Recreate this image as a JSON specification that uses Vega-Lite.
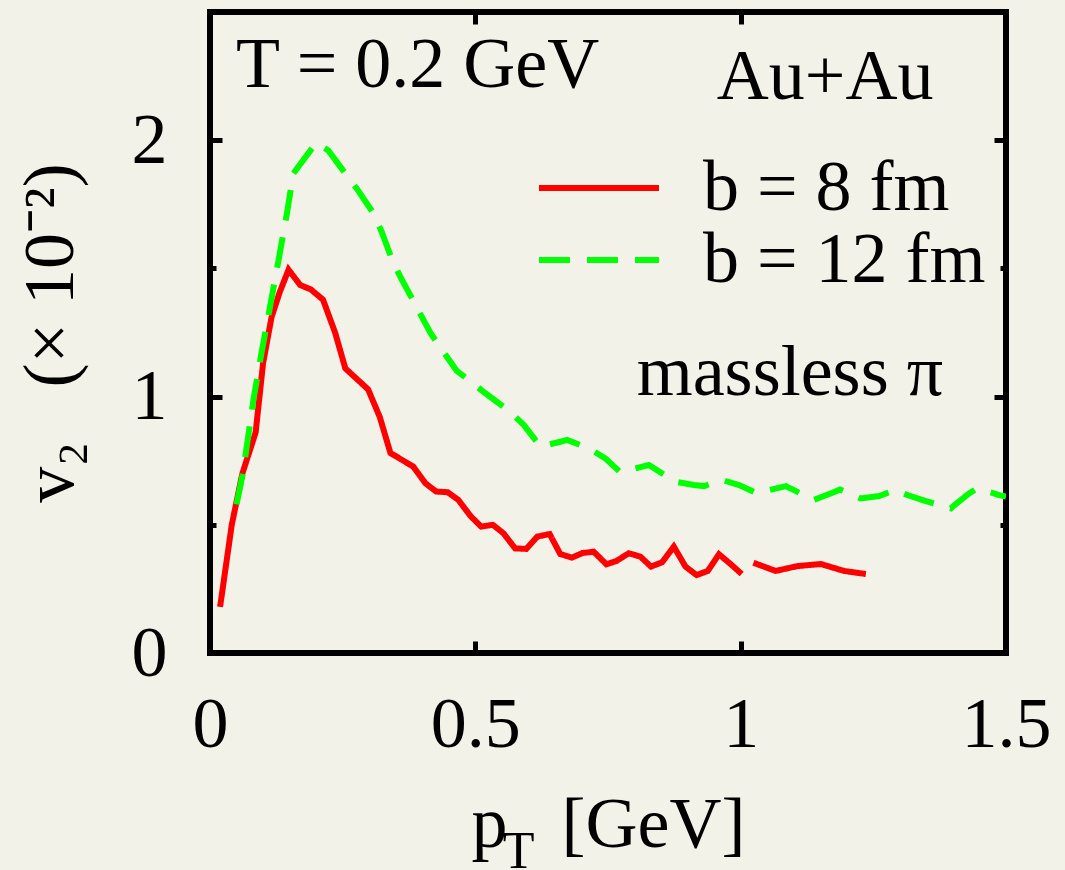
{
  "$schema": "https://vega.github.io/schema/vega-lite/v6.json",
  "width": 796,
  "height": 641,
  "autosize": "none",
  "padding": {"left": 210, "top": 12, "right": 59, "bottom": 217},
  "background": "#f2f2e8",
  "config": {
    "view": {"stroke": "#000000", "strokeWidth": 6, "fill": "#f2f2e8"},
    "font": "Liberation Serif",
    "axis": {
      "domain": false,
      "grid": false,
      "tickColor": "#000000",
      "tickWidth": 5,
      "labelFont": "Liberation Serif",
      "labelFontSize": 72,
      "labelColor": "#000000",
      "titleFont": "Liberation Serif",
      "titleFontSize": 72,
      "titleFontWeight": "normal",
      "titleColor": "#000000"
    }
  },
  "datasets": {
    "curves": [
      {"series": "b = 8 fm", "seg": 1, "pt": 0.019, "v2": 0.18},
      {"series": "b = 8 fm", "seg": 1, "pt": 0.041, "v2": 0.50},
      {"series": "b = 8 fm", "seg": 1, "pt": 0.061, "v2": 0.70},
      {"series": "b = 8 fm", "seg": 1, "pt": 0.086, "v2": 0.86},
      {"series": "b = 8 fm", "seg": 1, "pt": 0.100, "v2": 1.13},
      {"series": "b = 8 fm", "seg": 1, "pt": 0.116, "v2": 1.31},
      {"series": "b = 8 fm", "seg": 1, "pt": 0.131, "v2": 1.405},
      {"series": "b = 8 fm", "seg": 1, "pt": 0.148, "v2": 1.495},
      {"series": "b = 8 fm", "seg": 1, "pt": 0.170, "v2": 1.435},
      {"series": "b = 8 fm", "seg": 1, "pt": 0.190, "v2": 1.418},
      {"series": "b = 8 fm", "seg": 1, "pt": 0.213, "v2": 1.378},
      {"series": "b = 8 fm", "seg": 1, "pt": 0.236, "v2": 1.248},
      {"series": "b = 8 fm", "seg": 1, "pt": 0.255, "v2": 1.11},
      {"series": "b = 8 fm", "seg": 1, "pt": 0.276, "v2": 1.07},
      {"series": "b = 8 fm", "seg": 1, "pt": 0.298, "v2": 1.028},
      {"series": "b = 8 fm", "seg": 1, "pt": 0.320, "v2": 0.92},
      {"series": "b = 8 fm", "seg": 1, "pt": 0.340, "v2": 0.78},
      {"series": "b = 8 fm", "seg": 1, "pt": 0.383, "v2": 0.727},
      {"series": "b = 8 fm", "seg": 1, "pt": 0.406, "v2": 0.662},
      {"series": "b = 8 fm", "seg": 1, "pt": 0.426, "v2": 0.630},
      {"series": "b = 8 fm", "seg": 1, "pt": 0.448, "v2": 0.627},
      {"series": "b = 8 fm", "seg": 1, "pt": 0.468, "v2": 0.597},
      {"series": "b = 8 fm", "seg": 1, "pt": 0.491, "v2": 0.534},
      {"series": "b = 8 fm", "seg": 1, "pt": 0.511, "v2": 0.493},
      {"series": "b = 8 fm", "seg": 1, "pt": 0.533, "v2": 0.500},
      {"series": "b = 8 fm", "seg": 1, "pt": 0.553, "v2": 0.467},
      {"series": "b = 8 fm", "seg": 1, "pt": 0.575, "v2": 0.408},
      {"series": "b = 8 fm", "seg": 1, "pt": 0.596, "v2": 0.406},
      {"series": "b = 8 fm", "seg": 1, "pt": 0.617, "v2": 0.454},
      {"series": "b = 8 fm", "seg": 1, "pt": 0.640, "v2": 0.464},
      {"series": "b = 8 fm", "seg": 1, "pt": 0.660, "v2": 0.386},
      {"series": "b = 8 fm", "seg": 1, "pt": 0.682, "v2": 0.372},
      {"series": "b = 8 fm", "seg": 1, "pt": 0.702, "v2": 0.390},
      {"series": "b = 8 fm", "seg": 1, "pt": 0.723, "v2": 0.395},
      {"series": "b = 8 fm", "seg": 1, "pt": 0.747, "v2": 0.346},
      {"series": "b = 8 fm", "seg": 1, "pt": 0.766, "v2": 0.359},
      {"series": "b = 8 fm", "seg": 1, "pt": 0.789, "v2": 0.389},
      {"series": "b = 8 fm", "seg": 1, "pt": 0.811, "v2": 0.376},
      {"series": "b = 8 fm", "seg": 1, "pt": 0.831, "v2": 0.337},
      {"series": "b = 8 fm", "seg": 1, "pt": 0.852, "v2": 0.354},
      {"series": "b = 8 fm", "seg": 1, "pt": 0.874, "v2": 0.415},
      {"series": "b = 8 fm", "seg": 1, "pt": 0.896, "v2": 0.337},
      {"series": "b = 8 fm", "seg": 1, "pt": 0.917, "v2": 0.304},
      {"series": "b = 8 fm", "seg": 1, "pt": 0.938, "v2": 0.320},
      {"series": "b = 8 fm", "seg": 1, "pt": 0.959, "v2": 0.385},
      {"series": "b = 8 fm", "seg": 1, "pt": 0.981, "v2": 0.347},
      {"series": "b = 8 fm", "seg": 1, "pt": 1.002, "v2": 0.308},
      {"series": "b = 8 fm", "seg": 2, "pt": 1.024, "v2": 0.352},
      {"series": "b = 8 fm", "seg": 2, "pt": 1.066, "v2": 0.320},
      {"series": "b = 8 fm", "seg": 2, "pt": 1.107, "v2": 0.339},
      {"series": "b = 8 fm", "seg": 2, "pt": 1.151, "v2": 0.347},
      {"series": "b = 8 fm", "seg": 2, "pt": 1.195, "v2": 0.320},
      {"series": "b = 8 fm", "seg": 2, "pt": 1.236, "v2": 0.308},
      {"series": "b = 12 fm", "seg": 1, "pt": 0.050, "v2": 0.58},
      {"series": "b = 12 fm", "seg": 1, "pt": 0.062, "v2": 0.70},
      {"series": "b = 12 fm", "seg": 1, "pt": 0.082, "v2": 0.99},
      {"series": "b = 12 fm", "seg": 1, "pt": 0.097, "v2": 1.17},
      {"series": "b = 12 fm", "seg": 1, "pt": 0.113, "v2": 1.35},
      {"series": "b = 12 fm", "seg": 1, "pt": 0.129, "v2": 1.53},
      {"series": "b = 12 fm", "seg": 1, "pt": 0.145, "v2": 1.715},
      {"series": "b = 12 fm", "seg": 1, "pt": 0.157, "v2": 1.87},
      {"series": "b = 12 fm", "seg": 1, "pt": 0.200, "v2": 1.99},
      {"series": "b = 12 fm", "seg": 1, "pt": 0.223, "v2": 1.96},
      {"series": "b = 12 fm", "seg": 1, "pt": 0.255, "v2": 1.87},
      {"series": "b = 12 fm", "seg": 1, "pt": 0.277, "v2": 1.81},
      {"series": "b = 12 fm", "seg": 1, "pt": 0.308, "v2": 1.715},
      {"series": "b = 12 fm", "seg": 1, "pt": 0.324, "v2": 1.64},
      {"series": "b = 12 fm", "seg": 1, "pt": 0.342, "v2": 1.54},
      {"series": "b = 12 fm", "seg": 1, "pt": 0.358, "v2": 1.47},
      {"series": "b = 12 fm", "seg": 1, "pt": 0.384, "v2": 1.37},
      {"series": "b = 12 fm", "seg": 1, "pt": 0.402, "v2": 1.30},
      {"series": "b = 12 fm", "seg": 1, "pt": 0.415, "v2": 1.25},
      {"series": "b = 12 fm", "seg": 1, "pt": 0.431, "v2": 1.20},
      {"series": "b = 12 fm", "seg": 1, "pt": 0.453, "v2": 1.136},
      {"series": "b = 12 fm", "seg": 1, "pt": 0.465, "v2": 1.10},
      {"series": "b = 12 fm", "seg": 1, "pt": 0.491, "v2": 1.06},
      {"series": "b = 12 fm", "seg": 1, "pt": 0.519, "v2": 1.013},
      {"series": "b = 12 fm", "seg": 1, "pt": 0.566, "v2": 0.94},
      {"series": "b = 12 fm", "seg": 1, "pt": 0.591, "v2": 0.89},
      {"series": "b = 12 fm", "seg": 1, "pt": 0.623, "v2": 0.805},
      {"series": "b = 12 fm", "seg": 1, "pt": 0.660, "v2": 0.824},
      {"series": "b = 12 fm", "seg": 1, "pt": 0.673, "v2": 0.831},
      {"series": "b = 12 fm", "seg": 1, "pt": 0.714, "v2": 0.798},
      {"series": "b = 12 fm", "seg": 1, "pt": 0.745, "v2": 0.759},
      {"series": "b = 12 fm", "seg": 1, "pt": 0.772, "v2": 0.707},
      {"series": "b = 12 fm", "seg": 1, "pt": 0.789, "v2": 0.714},
      {"series": "b = 12 fm", "seg": 1, "pt": 0.827, "v2": 0.733},
      {"series": "b = 12 fm", "seg": 1, "pt": 0.877, "v2": 0.668},
      {"series": "b = 12 fm", "seg": 1, "pt": 0.912, "v2": 0.655},
      {"series": "b = 12 fm", "seg": 1, "pt": 0.931, "v2": 0.651},
      {"series": "b = 12 fm", "seg": 1, "pt": 0.965, "v2": 0.675},
      {"series": "b = 12 fm", "seg": 1, "pt": 0.997, "v2": 0.655},
      {"series": "b = 12 fm", "seg": 1, "pt": 1.031, "v2": 0.623},
      {"series": "b = 12 fm", "seg": 1, "pt": 1.047, "v2": 0.632},
      {"series": "b = 12 fm", "seg": 1, "pt": 1.085, "v2": 0.651},
      {"series": "b = 12 fm", "seg": 1, "pt": 1.138, "v2": 0.597},
      {"series": "b = 12 fm", "seg": 1, "pt": 1.173, "v2": 0.625},
      {"series": "b = 12 fm", "seg": 1, "pt": 1.187, "v2": 0.638},
      {"series": "b = 12 fm", "seg": 1, "pt": 1.226, "v2": 0.603},
      {"series": "b = 12 fm", "seg": 1, "pt": 1.261, "v2": 0.612},
      {"series": "b = 12 fm", "seg": 1, "pt": 1.292, "v2": 0.636},
      {"series": "b = 12 fm", "seg": 1, "pt": 1.314, "v2": 0.616},
      {"series": "b = 12 fm", "seg": 1, "pt": 1.346, "v2": 0.594},
      {"series": "b = 12 fm", "seg": 1, "pt": 1.396, "v2": 0.564},
      {"series": "b = 12 fm", "seg": 1, "pt": 1.403, "v2": 0.577},
      {"series": "b = 12 fm", "seg": 1, "pt": 1.431, "v2": 0.623},
      {"series": "b = 12 fm", "seg": 1, "pt": 1.446, "v2": 0.642},
      {"series": "b = 12 fm", "seg": 1, "pt": 1.487, "v2": 0.616},
      {"series": "b = 12 fm", "seg": 1, "pt": 1.500, "v2": 0.610}
    ],
    "notes": [
      {"label": "T = 0.2 GeV", "x": 0.049, "y": 2.207, "grp": "a"},
      {"label": "Au+Au", "x": 0.955, "y": 2.161, "grp": "a"},
      {"label": "massless π", "x": 0.804, "y": 1.006, "grp": "b"}
    ]
  },
  "layer": [
    {
      "data": {"name": "curves"},
      "mark": {"type": "line", "strokeWidth": 6, "clip": true},
      "encoding": {
        "x": {
          "field": "pt", "type": "quantitative",
          "scale": {"domain": [0, 1.5], "nice": false, "zero": false},
          "axis": {
            "orient": "bottom", "values": [0, 0.5, 1, 1.5],
            "labelExpr": "format(datum.value, '~g')",
            "tickSize": -12, "labelPadding": 48, "labelFlush": false,
            "title": "p\u00a0\u00a0\u00a0[GeV]", "titlePadding": 29
          }
        },
        "y": {
          "field": "v2", "type": "quantitative",
          "scale": {"domain": [0, 2.5], "nice": false, "zero": false},
          "axis": {
            "orient": "left", "values": [0, 0.5, 1, 1.5, 2],
            "labelExpr": "datum.value % 1 === 0 ? format(datum.value, 'd') : ''",
            "tickSize": {"condition": {"test": "datum.value % 1 !== 0", "value": -6}, "value": -12},
            "labelPadding": 55, "labelFlush": false,
            "title": "v₂\u00a0\u00a0\u00a0(×\u00a010⁻²)", "titlePadding": 44
          }
        },
        "color": {
          "field": "series", "type": "nominal",
          "scale": {"domain": ["b = 8 fm", "b = 12 fm"], "range": ["#ff0000", "#00ff00"]},
          "legend": {
            "orient": "none", "legendX": 353, "legendY": 140, "title": null,
            "symbolType": "M-2,0H2", "symbolSize": 3600, "symbolStrokeWidth": 6,
            "labelFont": "Liberation Serif", "labelFontSize": 72, "labelColor": "#000000",
            "labelOffset": 68, "rowPadding": -1, "padding": 0, "labelLimit": 0
          }
        },
        "strokeDash": {
          "field": "series", "type": "nominal",
          "scale": {"domain": ["b = 8 fm", "b = 12 fm"], "range": [[1, 0], [31, 17]]},
          "legend": {
            "orient": "none", "legendX": 353, "legendY": 140, "title": null,
            "symbolType": "M-2,0H2", "symbolSize": 3600, "symbolStrokeWidth": 6,
            "labelFont": "Liberation Serif", "labelFontSize": 72, "labelColor": "#000000",
            "labelOffset": 68, "rowPadding": -1, "padding": 0, "labelLimit": 0
          }
        },
        "detail": {"field": "seg", "type": "nominal"}
      }
    },
    {
      "data": {"name": "notes"},
      "transform": [{"filter": "datum.grp === 'a'"}],
      "mark": {"type": "text", "align": "left", "baseline": "alphabetic", "fontSize": 72, "font": "Liberation Serif", "color": "#000000"},
      "encoding": {
        "x": {
          "field": "x", "type": "quantitative",
          "scale": {"domain": [0, 1.5], "nice": false, "zero": false},
          "axis": {"orient": "top", "values": [0.5, 1], "labels": false, "tickSize": -12, "title": null}
        },
        "y": {
          "field": "y", "type": "quantitative",
          "scale": {"domain": [0, 2.5], "nice": false, "zero": false},
          "axis": {
            "orient": "right", "values": [0.5, 1, 1.5, 2], "labels": false,
            "tickSize": {"condition": {"test": "datum.value % 1 !== 0", "value": -6}, "value": -12},
            "title": null
          }
        },
        "text": {"field": "label"}
      }
    },
    {
      "data": {"name": "notes"},
      "transform": [{"filter": "datum.grp === 'b'"}],
      "mark": {"type": "text", "align": "left", "baseline": "alphabetic", "fontSize": 72, "font": "Liberation Serif", "color": "#000000"},
      "encoding": {
        "x": {
          "field": "x", "type": "quantitative",
          "scale": {"domain": [0, 1.5], "nice": false, "zero": false},
          "axis": {
            "orient": "bottom", "labels": false, "ticks": false, "domain": false,
            "title": "T", "titleFontSize": 52, "titleX": 308, "titleY": 214,
            "titleBaseline": "alphabetic", "titleAlign": "center"
          }
        },
        "y": {
          "field": "y", "type": "quantitative",
          "scale": {"domain": [0, 2.5], "nice": false, "zero": false},
          "axis": null
        },
        "text": {"field": "label"}
      }
    }
  ],
  "resolve": {"axis": {"x": "independent", "y": "independent"}}
}
